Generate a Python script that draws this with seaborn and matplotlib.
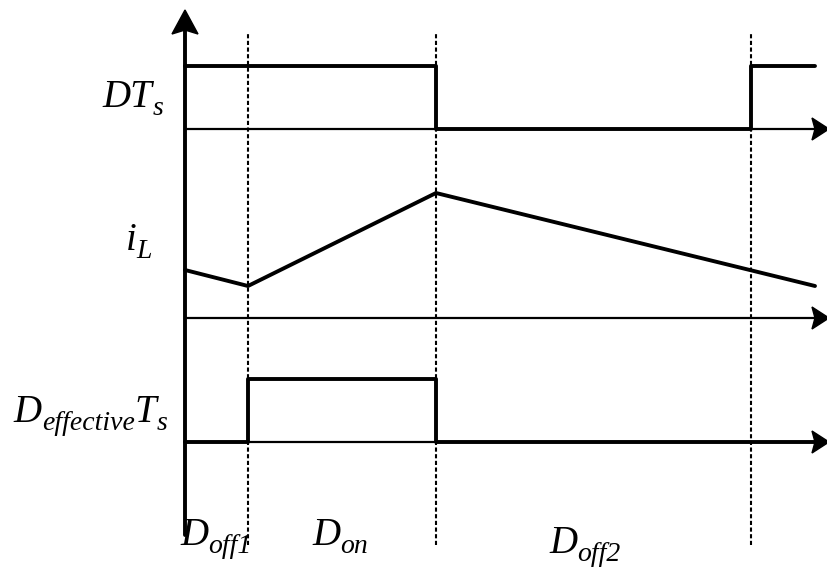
import numpy as np
import pandas as pd
import matplotlib
matplotlib.use("Agg")
import matplotlib.pyplot as plt
from matplotlib.patches import Polygon
import seaborn as sns

sns.set_theme(style="white")

# switching instants (time axis, origin at the vertical axis)
t_off1 = 63
t_on_end = 251
t_next = 566
t_end = 630

# gate signal DT_s (0 = low, 1 = high)
dts_t = [0, t_on_end, t_on_end, t_next, t_next, t_end]
dts_v = [1, 1, 0, 0, 1, 1]

# inductor current i_L (relative amplitude)
il_t = [0, t_off1, t_on_end, t_end]
il_v = [48, 32, 125, 32]

# effective duty signal D_effective T_s
deff_t = [0, t_off1, t_off1, t_on_end, t_on_end, t_end]
deff_v = [0, 0, 1, 1, 0, 0]

# labels as (text, is_subscript) runs
signal_labels = [
    [("DT", False), ("s", True)],
    [("i", False), ("L", True)],
    [("D", False), ("effective", True), ("T", False), ("s", True)],
]
interval_labels = [
    [("D", False), ("off1", True)],
    [("D", False), ("on", True)],
    [("D", False), ("off2", True)],
]

W, H = 827, 569
fig = plt.figure(figsize=(W / 100, H / 100), dpi=100)
ax = fig.add_axes([0, 0, 1, 1])
x0 = 185  # vertical axis position
ax.set_xlim(-x0, W - x0)
ax.set_ylim(0, H)
ax.axis("off")
renderer = fig.canvas.get_renderer()

# baselines (pixel height from bottom) and gate amplitude
base_dts = H - 129
base_il = H - 318
base_deff = H - 442
amp = 63

lw_sig = 2.8
lw_axis = 1.6
k = "black"

# dotted markers at the switching instants
for t in [t_off1, t_on_end, t_next]:
    ax.plot([t, t], [H - 545, H - 33], color=k, lw=1.5,
            linestyle=(0, (2.0, 1.2)), zorder=1)

# horizontal time axes with arrowheads
for b in [base_dts, base_il, base_deff]:
    ax.plot([0, W - x0 - 10], [b, b], color=k, lw=lw_axis, zorder=2)
    tip = W - x0 + 2
    ax.add_patch(Polygon([[tip, b], [tip - 17, b + 11], [tip - 14, b],
                          [tip - 17, b - 11]], closed=True, color=k, zorder=3))

# vertical axis with arrowhead
ax.plot([0, 0], [H - 535, H - 28], color=k, lw=2.8, zorder=3)
ax.add_patch(Polygon([[0, H - 10], [-13, H - 34], [0, H - 30], [13, H - 34]],
                     closed=True, color=k, zorder=3))

df_dts = pd.DataFrame({"t": dts_t, "y": [base_dts + amp * v for v in dts_v]})
df_il = pd.DataFrame({"t": il_t, "y": [base_il + v for v in il_v]})
df_deff = pd.DataFrame({"t": deff_t, "y": [base_deff + amp * v for v in deff_v]})

for df in [df_dts, df_il, df_deff]:
    sns.lineplot(data=df, x="t", y="y", sort=False, estimator=None, ax=ax,
                 color=k, lw=lw_sig, zorder=4)

fs_main, fs_sub, sub_drop = 28, 20, 8
font = dict(family="Liberation Serif", style="italic", color=k)


def draw_label(runs, x, baseline, align="left"):
    """Typeset a label made of normal and subscript runs starting at x."""
    artists = []
    for txt, sub in runs:
        a = ax.text(0, 0, txt, fontsize=fs_sub if sub else fs_main,
                    ha="left", va="baseline", **font)
        artists.append((a, sub))
    widths = [a.get_window_extent(renderer).width for a, _ in artists]
    cx = x - sum(widths) if align == "right" else x
    for (a, sub), w in zip(artists, widths):
        a.set_position((cx, baseline - (sub_drop if sub else 0)))
        cx += w


draw_label(signal_labels[0], 163 - x0, H - 107, align="right")
draw_label(signal_labels[1], 152 - x0, H - 250, align="right")
draw_label(signal_labels[2], 167 - x0, H - 422, align="right")

draw_label(interval_labels[0], 180 - x0, H - 545)
draw_label(interval_labels[1], 312 - x0, H - 545)
draw_label(interval_labels[2], 549 - x0, H - 553)

fig.savefig("out.png", dpi=100, facecolor="white")
